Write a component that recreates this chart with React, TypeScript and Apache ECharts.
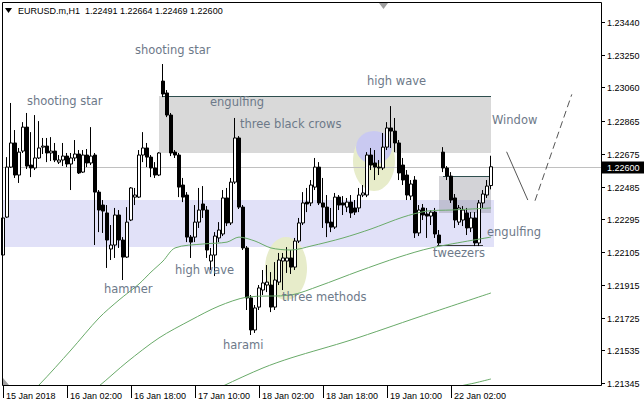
import React, { useEffect, useRef } from "react";
import * as echarts from "echarts";

// ---------- data ----------
const headerText = "EURUSD.m,H1  1.22491 1.22664 1.22469 1.22600";
const timeLabels = ["15 Jan 2018", "16 Jan 02:00", "16 Jan 18:00", "17 Jan 10:00", "18 Jan 02:00", "18 Jan 18:00", "19 Jan 10:00", "22 Jan 02:00"];
const timeLabelIndex = [0, 16, 32, 48, 64, 80, 96, 112];
const priceTicks = [1.2344, 1.2325, 1.2306, 1.22865, 1.22675, 1.22485, 1.22295, 1.22105, 1.21915, 1.21725, 1.21535, 1.21345];
const bidPrice = 1.226;

const opens = [
  1.22088, 1.22308, 1.22598, 1.22738, 1.22552, 1.22691, 1.2283, 1.2261, 1.22593, 1.22651,
  1.22714, 1.2272, 1.2268, 1.22691, 1.22627, 1.22639, 1.22662, 1.22616, 1.22651, 1.22674,
  1.22569, 1.22668, 1.22622, 1.22668, 1.22453, 1.22378, 1.22332, 1.22123, 1.22146, 1.2232,
  1.22175, 1.22076, 1.22291, 1.22424, 1.22424, 1.22668, 1.22709, 1.22656, 1.22593, 1.22552,
  1.23097, 1.23028, 1.229, 1.22685, 1.22668, 1.22494, 1.22436, 1.22192, 1.22192, 1.22279,
  1.22384, 1.22349, 1.22053, 1.22088, 1.22187, 1.2221, 1.22419, 1.22274, 1.22511, 1.22767,
  1.22366, 1.22129, 1.21839, 1.21653, 1.21786, 1.21885, 1.21914, 1.21914, 1.21786, 1.21931,
  1.22053, 1.22053, 1.22071, 1.22018, 1.22169, 1.22274, 1.22395, 1.2239, 1.22482, 1.22598,
  1.2239, 1.22366, 1.22279, 1.2225, 1.22424, 1.2239, 1.22366, 1.22395, 1.22361, 1.22361,
  1.22436, 1.22436, 1.22668, 1.22622, 1.22598, 1.22593, 1.22714, 1.22825, 1.22807, 1.22738,
  1.2261, 1.22552, 1.2243, 1.22523, 1.22216, 1.22361, 1.22326, 1.22314, 1.22337, 1.22204,
  1.22685, 1.22593, 1.22546, 1.22419, 1.22279, 1.22291, 1.22332, 1.22245, 1.22303, 1.22158,
  1.2239, 1.22436, 1.22491,
];
const highs = [
  1.22337, 1.22656, 1.2297, 1.22813, 1.22709, 1.22859, 1.22912, 1.22801, 1.229, 1.22865,
  1.22767, 1.22767, 1.22772, 1.22738, 1.22668, 1.22738, 1.2268, 1.2268, 1.22755, 1.22697,
  1.22697, 1.22703, 1.2283, 1.2268, 1.22465, 1.22407, 1.22378, 1.22262, 1.22361, 1.22349,
  1.22192, 1.22366, 1.22482, 1.22477, 1.22697, 1.22801, 1.22738, 1.22668, 1.22627, 1.22685,
  1.23196, 1.23045, 1.22912, 1.22697, 1.2268, 1.22535, 1.22453, 1.22204, 1.22378, 1.22477,
  1.22488, 1.22372, 1.22129, 1.22221, 1.22279, 1.22465, 1.22477, 1.22535, 1.22883, 1.22778,
  1.22378, 1.2214, 1.21856, 1.21798, 1.21914, 1.22001, 1.2203, 1.21989, 1.22047, 1.221,
  1.221, 1.22134, 1.22117, 1.22187, 1.22303, 1.22453, 1.22477, 1.22523, 1.22651, 1.22627,
  1.22535, 1.22436, 1.22361, 1.22448, 1.22436, 1.2243, 1.22419, 1.22436, 1.22407, 1.22477,
  1.22494, 1.22685, 1.22709, 1.22697, 1.22639, 1.22796, 1.22859, 1.22952, 1.22883, 1.22755,
  1.22651, 1.22581, 1.22523, 1.22546, 1.22378, 1.22384, 1.22361, 1.22349, 1.22361, 1.22233,
  1.22714, 1.22604, 1.22569, 1.22442, 1.22378, 1.22372, 1.22361, 1.22337, 1.22337, 1.22407,
  1.22465, 1.22523, 1.22664,
];
const lows = [
  1.22082, 1.22303, 1.22593, 1.22535, 1.22506, 1.2268, 1.22587, 1.2254, 1.22581, 1.22645,
  1.22674, 1.22627, 1.22633, 1.22627, 1.22616, 1.22604, 1.22598, 1.22465, 1.22633, 1.22558,
  1.22564, 1.22598, 1.2261, 1.22146, 1.22221, 1.22216, 1.22013, 1.22059, 1.22071, 1.22129,
  1.21943, 1.22071, 1.22285, 1.22378, 1.22419, 1.22627, 1.22598, 1.2254, 1.22535, 1.22546,
  1.23004, 1.22888, 1.22662, 1.22651, 1.22424, 1.22395, 1.22163, 1.22071, 1.22163, 1.22245,
  1.22303, 1.22071, 1.22001, 1.21966, 1.22163, 1.22198, 1.22256, 1.22262, 1.225, 1.22355,
  1.22117, 1.21769, 1.21624, 1.21636, 1.21769, 1.21856, 1.21873, 1.21757, 1.21769, 1.21914,
  1.21885, 1.21984, 1.21978, 1.22001, 1.22158, 1.22262, 1.22337, 1.22372, 1.22465, 1.22378,
  1.22245, 1.22192, 1.22221, 1.22239, 1.22349, 1.2232, 1.22337, 1.22303, 1.2232, 1.22337,
  1.22424, 1.22424, 1.22581, 1.22523, 1.22552, 1.22581, 1.22697, 1.22709, 1.22685, 1.22523,
  1.22494, 1.22407, 1.22407, 1.22187, 1.22198, 1.22291, 1.22187, 1.22262, 1.22187, 1.22146,
  1.22569, 1.22523, 1.2239, 1.22245, 1.22262, 1.22256, 1.22204, 1.22221, 1.2214, 1.2214,
  1.22361, 1.22419, 1.22469,
];
const closes = [
  1.22303, 1.22598, 1.22738, 1.22552, 1.22685, 1.2283, 1.22604, 1.22593, 1.22651, 1.22709,
  1.2272, 1.2268, 1.22691, 1.22639, 1.22639, 1.22662, 1.22616, 1.22651, 1.22674, 1.22564,
  1.22668, 1.22622, 1.22662, 1.22453, 1.22349, 1.22343, 1.22175, 1.22146, 1.2232, 1.22175,
  1.22076, 1.22279, 1.22477, 1.22436, 1.22668, 1.22709, 1.22656, 1.22593, 1.22552, 1.2268,
  1.23022, 1.229, 1.2268, 1.22668, 1.22482, 1.22424, 1.22192, 1.22163, 1.22279, 1.22349,
  1.22349, 1.22117, 1.22088, 1.22198, 1.22233, 1.22419, 1.22274, 1.22511, 1.22767, 1.22366,
  1.22129, 1.21839, 1.21653, 1.21781, 1.21897, 1.21926, 1.21931, 1.21786, 1.21943, 1.22059,
  1.22071, 1.22071, 1.22018, 1.22169, 1.22274, 1.2239, 1.22384, 1.22494, 1.22598, 1.2239,
  1.22366, 1.22274, 1.2225, 1.22424, 1.22378, 1.22378, 1.22395, 1.22332, 1.22337, 1.22436,
  1.22448, 1.22668, 1.2261, 1.22598, 1.22593, 1.22714, 1.22825, 1.22807, 1.22738, 1.22564,
  1.22523, 1.22436, 1.225, 1.22216, 1.22349, 1.2232, 1.22314, 1.22337, 1.2221, 1.22158,
  1.22593, 1.22546, 1.22407, 1.22291, 1.22361, 1.22349, 1.22245, 1.22303, 1.22158, 1.2239,
  1.22442, 1.22488, 1.226,
];

// moving averages, read at sample bars: [bar index, price]
const maFast = [[7, 1.213], [9, 1.21334], [17, 1.21537], [24, 1.21723], [29, 1.21827], [34, 1.2192], [37, 1.21989], [40, 1.22053], [43, 1.22129], [50, 1.22152], [56, 1.22163], [59, 1.22192], [63, 1.22169], [67, 1.22129], [72, 1.22117], [77, 1.2214], [85, 1.22187], [92, 1.22239], [100, 1.22308], [106, 1.22343], [112, 1.22349], [122, 1.22361]];
const maMid = [[22, 1.213], [24, 1.21328], [31, 1.21467], [39, 1.21607], [47, 1.21711], [54, 1.21792], [61, 1.21844], [72, 1.21856], [79, 1.21908], [89, 1.21995], [99, 1.22076], [107, 1.22129], [122, 1.22192]];
const maSlow = [[53, 1.213], [55, 1.21328], [65, 1.21433], [72, 1.21491], [87, 1.21595], [104, 1.21729], [122, 1.21868]];
const maSlowest = [[112, 1.213], [114, 1.21325], [118, 1.21346], [122, 1.21369]];

// drawn objects, in data units (bar index, price)
const blueZone = { i0: -0.25, i1: 122.75, p0: 1.22407, p1: 1.22132 };
const greyZone = { i0: 39, i1: 122, p0: 1.2301, p1: 1.2268 };
const windowZone = { i0: 109, i1: 122, p0: 1.22546, p1: 1.22332 };
const methodsOval = { i0: 65.5, i1: 76, p0: 1.22192, p1: 1.21827 };
const waveOval = { i0: 87.5, i1: 98, p0: 1.22807, p1: 1.22459 };
const waveCircle = { i0: 88.25, i1: 97.25, p0: 1.22807, p1: 1.22616 };
const greyTopLine = { i0: 40, i1: 122, p0: 1.2301, p1: 1.2301 };
const windowTopLine = { i0: 110, i1: 122, p0: 1.22546, p1: 1.22546 };
const tweezersLine = { i0: 108.5, i1: 120, p0: 1.22146, p1: 1.22146 };
const gapDown = { i0: 125.9, i1: 131.2, p0: 1.22687, p1: 1.22407 };
const gapUp = { i0: 133, i1: 142.2, p0: 1.22403, p1: 1.2302 };

const patternNames = ["shooting star", "shooting star", "engulfing", "three black crows", "high wave", "Window", "hammer", "high wave", "three methods", "harami", "tweezers", "engulfing"];
// label anchors in pixels (left, middle)
const patternLayout = [[27, 101], [135, 50], [210, 102], [240, 124], [367, 81], [492, 120], [104, 289], [175, 270], [282, 297], [223, 345], [433, 253], [487, 232]];

const SLOTS = 150;
const Y_MIN = 1.21334;
const Y_MAX = 1.2355;
const categories = Array.from({ length: SLOTS }, (_, i) => String(i));

const AXIS_FONT = '9px "Liberation Sans", Arial, sans-serif';
const NOTE_FONT = '11.5px "DejaVu Sans", Verdana, sans-serif';
const NOTE_COLOR = "#6d7989";
const MA_COLOR = "#69aa69";

function buildOption() {
  const isLabel = (i: number) => timeLabelIndex.indexOf(i) >= 0;
  const maSeries = (data: number[][]) => ({
    type: "line",
    data,
    showSymbol: false,
    symbol: "none",
    smooth: 0.3,
    clip: true,
    silent: true,
    z: 4,
    lineStyle: { color: MA_COLOR, width: 1 },
  });
  return {
    animation: false,
    backgroundColor: "#ffffff",
    grid: { left: 1, top: 3, width: 600, height: 382, containLabel: false, outerBoundsMode: "none" },
    xAxis: {
      type: "category",
      data: categories,
      boundaryGap: true,
      axisLine: { show: false },
      splitLine: { show: false },
      axisTick: {
        show: true,
        alignWithLabel: true,
        interval: (i: number) => isLabel(i),
        length: 13,
        lineStyle: { color: "#000", width: 1 },
      },
      axisLabel: {
        show: true,
        interval: (i: number) => isLabel(i),
        formatter: (v: string) => {
          const k = timeLabelIndex.indexOf(Number(v));
          return k >= 0 ? timeLabels[k] : "";
        },
        align: "left",
        margin: 6,
        padding: [0, 0, 0, 3],
        fontSize: 9,
        fontFamily: '"Liberation Sans", Arial, sans-serif',
        color: "#000",
        hideOverlap: false,
      },
    },
    yAxis: {
      type: "value",
      position: "right",
      min: Y_MIN,
      max: Y_MAX,
      scale: true,
      axisLine: { show: false },
      axisTick: { show: false },
      axisLabel: { show: false },
      splitLine: { show: false },
    },
    series: [
      {
        type: "candlestick",
        data: opens.map((o, i) => [o, closes[i], lows[i], highs[i]]),
        barWidth: 3,
        z: 3,
        silent: true,
        itemStyle: {
          color: "#ffffff",
          color0: "#000000",
          borderColor: "#000000",
          borderColor0: "#000000",
          borderColorDoji: "#000000",
          borderWidth: 1,
        },
      },
      maSeries(maFast),
      maSeries(maMid),
      maSeries(maSlow),
      maSeries(maSlowest),
    ],
  };
}

function buildGraphics(chart: any) {
  const a = chart.convertToPixel({ xAxisIndex: 0 }, 0);
  const b = chart.convertToPixel({ xAxisIndex: 0 }, 1);
  const X = (i: number) => a + (b - a) * i;
  const Y = (p: number) => chart.convertToPixel({ yAxisIndex: 0 }, p);
  const crisp = (v: number) => Math.round(v) + 0.5;
  const els: any[] = [];

  const rect = (z: any, fill: string) => {
    const x0 = X(z.i0), x1 = X(z.i1), y0 = Y(z.p0), y1 = Y(z.p1);
    els.push({
      type: "rect",
      z: 0,
      silent: true,
      shape: { x: Math.round(x0), y: Math.round(Math.min(y0, y1)), width: Math.round(x1 - x0), height: Math.round(Math.abs(y1 - y0)) },
      style: { fill },
    });
  };
  const oval = (z: any, fill: string) => {
    const x0 = X(z.i0), x1 = X(z.i1), y0 = Y(z.p0), y1 = Y(z.p1);
    els.push({
      type: "ellipse",
      z: 0,
      silent: true,
      shape: { cx: (x0 + x1) / 2, cy: (y0 + y1) / 2, rx: Math.abs(x1 - x0) / 2, ry: Math.abs(y1 - y0) / 2 },
      style: { fill },
    });
  };
  const seg = (s: any, stroke: string, dash?: number[], z = 1) => {
    const horiz = s.p0 === s.p1;
    els.push({
      type: "line",
      z,
      silent: true,
      shape: {
        x1: X(s.i0),
        y1: horiz ? crisp(Y(s.p0)) : Y(s.p0),
        x2: X(s.i1),
        y2: horiz ? crisp(Y(s.p1)) : Y(s.p1),
      },
      style: { stroke, lineWidth: 1, lineDash: dash || null },
    });
  };

  rect(blueZone, "#e1e1f8");
  rect(greyZone, "#d9d9d9");
  rect(windowZone, "rgba(140,140,150,0.38)");
  oval(methodsOval, "#e7ecca");
  oval(waveOval, "#e7ecca");
  oval(waveCircle, "#c9c9f1");

  // bid line
  const by = crisp(Y(bidPrice));
  els.push({ type: "line", z: 1, silent: true, shape: { x1: 3, y1: by, x2: 601, y2: by }, style: { stroke: "#c0c0c0", lineWidth: 1 } });

  seg(greyTopLine, "#2f4f4f");
  seg(windowTopLine, "#2f4f4f");
  seg(tweezersLine, "#3a3a3a");
  seg(gapDown, "#555555", undefined, 6);
  seg(gapUp, "#555555", [7, 4], 6);

  // frame
  els.push({ type: "rect", z: 8, silent: true, shape: { x: 2.5, y: 2.5, width: 599, height: 383 }, style: { fill: "none", stroke: "#000", lineWidth: 1 } });

  // price scale
  priceTicks.forEach((p) => {
    const y = crisp(Y(p));
    els.push({ type: "line", z: 9, silent: true, shape: { x1: 601.5, y1: y, x2: 605, y2: y }, style: { stroke: "#000", lineWidth: 1 } });
    els.push({ type: "text", z: 9, silent: true, style: { text: p.toFixed(5), x: 607, y, fill: "#000", font: AXIS_FONT, align: "left", verticalAlign: "middle", textAlign: "left", textVerticalAlign: "middle" } });
  });
  els.push({ type: "rect", z: 9, silent: true, shape: { x: 602, y: by - 6, width: 42, height: 12 }, style: { fill: "#000" } });
  els.push({ type: "text", z: 10, silent: true, style: { text: bidPrice.toFixed(5), x: 607, y: by, fill: "#fff", font: AXIS_FONT, align: "left", verticalAlign: "middle", textAlign: "left", textVerticalAlign: "middle" } });

  // markers
  els.push({ type: "polygon", z: 9, silent: true, shape: { points: [[379, 3], [388, 3], [383.5, 9]] }, style: { fill: "#a0a0a0" } });
  els.push({ type: "polygon", z: 9, silent: true, shape: { points: [[3, 378], [3, 385], [9, 385]] }, style: { fill: "#a0a0a0" } });

  // header
  els.push({ type: "polygon", z: 10, silent: true, shape: { points: [[5, 8], [12, 8], [8.5, 13]] }, style: { fill: "#000" } });
  els.push({ type: "text", z: 10, silent: true, style: { text: headerText, x: 18, y: 11, fill: "#000", font: AXIS_FONT, align: "left", verticalAlign: "middle", textAlign: "left", textVerticalAlign: "middle" } });

  // pattern names
  patternNames.forEach((t, k) => {
    const [x, y] = patternLayout[k];
    els.push({ type: "text", z: 10, silent: true, style: { text: t, x, y, fill: NOTE_COLOR, font: NOTE_FONT, align: "left", verticalAlign: "middle", textAlign: "left", textVerticalAlign: "middle" } });
  });
  return els;
}

export default function App() {
  const ref = useRef<HTMLDivElement>(null);
  useEffect(() => {
    if (!ref.current) return;
    const chart = echarts.init(ref.current, null, { renderer: "svg" });
    chart.setOption(buildOption() as any);
    chart.setOption({ graphic: { elements: buildGraphics(chart) } } as any);
    return () => chart.dispose();
  }, []);
  return <div ref={ref} style={{ position: "fixed", left: 0, top: 0, width: 644, height: 408, background: "#fff" }} />;
}
